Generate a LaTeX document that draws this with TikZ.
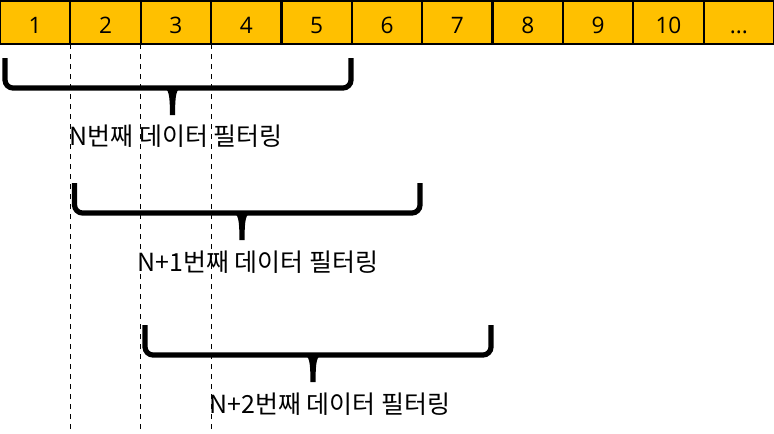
\documentclass[tikz,border=0pt]{standalone}
\usepackage{fontspec}
\setmainfont{Open Sans}
\newfontfamily\krfont{Noto Sans CJK KR}
\definecolor{cellfill}{HTML}{FFC000}
\newcommand\myell{...}
\newcommand\mybrace[6]{%
  \draw[bracestroke] (#1,#3) -- (#1,#4) -- (#2,#4) -- (#2,#3);
  \fill ({#5-10},{#4}) .. controls ({#5-3.5},{#4}) and ({#5-2.6},{#4+7}) .. ({#5-2.6},{#6})
     -- ({#5+2.6},{#6}) .. controls ({#5+2.6},{#4+7}) and ({#5+3.5},{#4}) .. ({#5+10},{#4}) -- cycle;
}
\begin{document}
\begin{tikzpicture}[x=0.75pt,y=-0.75pt,
  cell/.style={draw=black, line width=1.7pt, fill=cellfill, minimum width=52.773pt,
    minimum height=32.6pt, inner sep=0pt, outer sep=0pt},
  num/.style={inner sep=0pt, anchor=base, font=\fontsize{17pt}{20pt}\selectfont},
  lbl/.style={inner sep=0pt, anchor=base, font=\krfont\fontsize{18.7pt}{22pt}\selectfont},
  dashline/.style={line width=0.75pt, dash pattern=on 3.6pt off 3.9pt},
  bracestroke/.style={line width=3.9pt, rounded corners=6pt, line cap=butt}]
\useasboundingbox (0,0) rectangle (774,433);
\coordinate (bl) at (0,33.3);
\foreach \i/\t in {1/1,2/2,3/3,4/4,5/5,6/6,7/7,8/8,9/9,10/10,11/\myell}{
  \node[cell] (c\i) at ({(\i-0.5)*774/11},22.5) {};
  \node[num] (n\i) at (c\i.center |- bl) {\t};
}
\coordinate (bot) at (0,433);
\draw[dashline] (c1.south east) -- (c1.south east |- bot);
\draw[dashline] (c2.south east) -- (c2.south east |- bot);
\draw[dashline] (c3.south east) -- (c3.south east |- bot);
\mybrace{5}{351}{58}{88}{172.5}{115}
\mybrace{74.5}{420}{183}{213}{242}{240}
\mybrace{145}{491}{325}{355}{313}{382}
\node[lbl] (t1) at (176,145.7) {N번째 데이터 필터링};
\node[lbl] (t2) at (258,271.5) {N+1번째 데이터 필터링};
\node[lbl] (t3) at (330,413) {N+2번째 데이터 필터링};
\end{tikzpicture}
\end{document}
